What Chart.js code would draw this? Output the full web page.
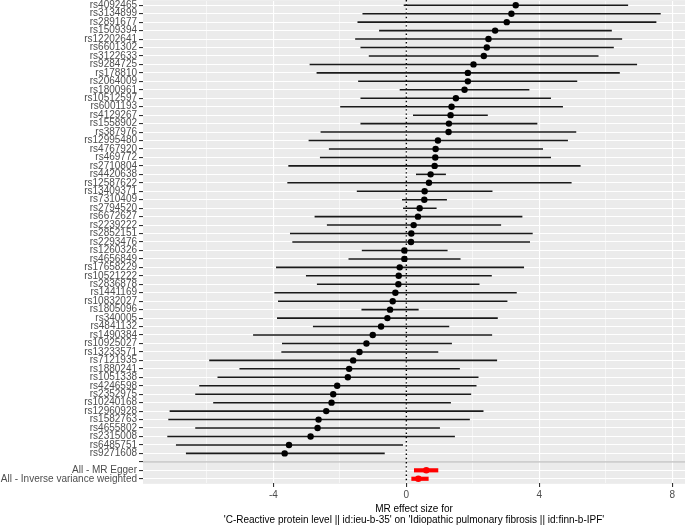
<!DOCTYPE html>
<html>
<head>
<meta charset="utf-8">
<script src="https://cdn.jsdelivr.net/npm/chart.js@4"></script>
<style>
  html, body { margin: 0; padding: 0; background: #fff; }
  #wrap { width: 685px; height: 526px; }
</style>
</head>
<body>
<div id="wrap"><canvas id="forestChart" width="685" height="526"></canvas></div>
<script>
// SNP rows, top to bottom
const snps = [
  "rs4092465", "rs3134899", "rs2891677", "rs1509394", "rs12202641", "rs6601302",
  "rs3122633", "rs9284725", "rs178810", "rs2064009", "rs1800961", "rs10512597",
  "rs6001193", "rs4129267", "rs1558902", "rs387976", "rs12995480", "rs4767920",
  "rs469772", "rs2710804", "rs4420638", "rs12587622", "rs13409371", "rs7310409",
  "rs2794520", "rs6672627", "rs2239222", "rs2852151", "rs2293476", "rs1260326",
  "rs4656849", "rs17658229", "rs10521222", "rs2836878", "rs1441169", "rs10832027",
  "rs1805096", "rs340005", "rs4841132", "rs1490384", "rs10925027", "rs13233571",
  "rs7121935", "rs1880241", "rs1051338", "rs4246598", "rs2352975", "rs10240168",
  "rs12960928", "rs1582763", "rs4655802", "rs2315008", "rs6485751", "rs9271608"
];
const estimates = [
  3.29, 3.16, 3.02, 2.67, 2.47, 2.42, 2.33, 2.02, 1.85, 1.85, 1.75, 1.49,
  1.36, 1.33, 1.28, 1.27, 0.95, 0.88, 0.87, 0.85, 0.73, 0.68, 0.55, 0.54,
  0.40, 0.35, 0.22, 0.15, 0.14, -0.06, -0.06, -0.20, -0.23, -0.24, -0.33, -0.41,
  -0.49, -0.57, -0.76, -1.01, -1.20, -1.41, -1.60, -1.72, -1.76, -2.08, -2.20, -2.25,
  -2.41, -2.64, -2.67, -2.88, -3.53, -3.66
];
const lowerCI = [
  -0.07, -1.31, -1.46, -0.81, -1.53, -1.37, -1.12, -2.90, -2.69, -1.44, -0.19, -1.37,
  -1.98, 0.21, -1.37, -2.57, -2.93, -2.32, -2.59, -3.54, 0.30, -3.57, -1.48, -0.12,
  -0.09, -2.75, -2.38, -3.49, -3.42, -1.33, -1.73, -3.91, -3.01, -2.68, -3.96, -3.85,
  -1.34, -3.88, -2.80, -4.60, -3.73, -3.75, -5.92, -5.01, -5.67, -6.22, -6.34, -5.80,
  -7.11, -7.15, -6.34, -7.18, -6.92, -6.62
];
const upperCI = [
  6.66, 7.64, 7.51, 6.17, 6.48, 6.23, 5.77, 6.93, 6.41, 5.13, 3.69, 4.34,
  4.70, 2.44, 3.93, 5.10, 4.85, 4.10, 4.34, 5.23, 1.18, 4.96, 2.58, 1.21,
  0.90, 3.48, 2.84, 3.79, 3.71, 1.23, 1.62, 3.53, 2.56, 2.19, 3.31, 3.03,
  0.36, 2.74, 1.28, 2.57, 1.36, 0.95, 2.72, 1.60, 2.16, 2.10, 1.94, 1.33,
  2.31, 1.90, 1.00, 1.45, -0.11, -0.66
];

// summary rows
const methods = ["All - MR Egger", "All - Inverse variance weighted"];
const methodEstimates = [0.60, 0.36];
const methodLower = [0.24, 0.16];
const methodUpper = [0.95, 0.66];

const majorTicks = [-4, 0, 4, 8];
const minorTicks = [-6, -2, 2, 6];
const xTitle = [
  "MR effect size for",
  "'C-Reactive protein level || id:ieu-b-35' on 'Idiopathic pulmonary fibrosis || id:finn-b-IPF'"
];

const rows = [...snps, "", ...methods];
const blankRow = snps.length;

const allLow = Math.min(...lowerCI, ...methodLower);
const allHigh = Math.max(...upperCI, ...methodUpper);
const pad = (allHigh - allLow) * 0.05;

const fontFamily = "'Liberation Sans', Arial, Helvetica, sans-serif";

const panelPlugin = {
  id: "panel",
  beforeDraw(chart) {
    const { ctx, chartArea: a, scales } = chart;
    // ggplot pads the discrete axis by 0.6 of a row
    const top = Math.max(0, scales.y.getPixelForValue(-0.6));
    const bottom = scales.y.getPixelForValue(rows.length - 0.4);
    ctx.save();
    ctx.fillStyle = "#EBEBEB";
    ctx.fillRect(a.left, top, a.right - a.left, bottom - top);
    ctx.restore();
  },
  beforeDatasetsDraw(chart) {
    const { ctx, chartArea: a, scales } = chart;
    ctx.save();
    // separator between SNPs and summary estimates
    const ySep = scales.y.getPixelForValue(blankRow);
    ctx.strokeStyle = "#BEBEBE";
    ctx.lineWidth = 1.1;
    ctx.beginPath();
    ctx.moveTo(a.left, ySep);
    ctx.lineTo(a.right, ySep);
    ctx.stroke();
    // dotted null line
    const x0 = scales.x.getPixelForValue(0);
    ctx.strokeStyle = "#000";
    ctx.lineWidth = 1.4;
    ctx.setLineDash([1.4, 2.8]);
    ctx.beginPath();
    ctx.moveTo(x0, 0);
    ctx.lineTo(x0, a.bottom);
    ctx.stroke();
    ctx.restore();
  }
};

new Chart(document.getElementById("forestChart"), {
  type: "bar",
  data: {
    labels: rows,
    datasets: [
      {
        type: "scatter",
        data: snps.map((s, i) => ({ x: estimates[i], y: s })),
        backgroundColor: "#000",
        borderWidth: 0,
        pointRadius: 3.2,
        order: 0
      },
      {
        type: "scatter",
        data: methods.map((m, i) => ({ x: methodEstimates[i], y: m })),
        backgroundColor: "#FF0000",
        borderWidth: 0,
        pointRadius: 3.3,
        order: 0
      },
      {
        data: rows.map((r, i) => i < snps.length ? [lowerCI[i], upperCI[i]] : null),
        backgroundColor: "#1a1a1a",
        barThickness: 0.9,
        grouped: false,
        order: 1
      },
      {
        data: rows.map(r => {
          const k = methods.indexOf(r);
          return k >= 0 ? [methodLower[k], methodUpper[k]] : null;
        }),
        backgroundColor: "#FF0000",
        barThickness: 3.5,
        grouped: false,
        order: 1
      }
    ]
  },
  options: {
    indexAxis: "y",
    responsive: false,
    animation: false,
    devicePixelRatio: 1,
    layout: { padding: { top: 1, left: 0, right: 0, bottom: 0 }, autoPadding: false },
    plugins: {
      legend: { display: false },
      tooltip: { enabled: false }
    },
    scales: {
      x: {
        type: "linear",
        min: allLow - pad,
        max: allHigh + pad,
        afterBuildTicks: scale => {
          scale.ticks = [...minorTicks, ...majorTicks].sort((a, b) => a - b).map(v => ({ value: v }));
        },
        afterFit: scale => {
          scale.height = 43;
          scale.paddingLeft = 0;
          scale.paddingRight = 0;
        },
        border: { display: false },
        grid: {
          color: "#FFFFFF",
          lineWidth: ctx => majorTicks.includes(ctx.tick.value) ? 1.1 : 0.55,
          tickColor: ctx => majorTicks.includes(ctx.tick.value) ? "#333333" : "rgba(0,0,0,0)",
          tickLength: 4,
          drawTicks: true
        },
        ticks: {
          autoSkip: false,
          maxRotation: 0,
          padding: 2,
          color: "#4D4D4D",
          font: { family: fontFamily, size: 10 },
          callback: v => majorTicks.includes(v) ? String(v) : ""
        },
        title: {
          display: true,
          text: xTitle,
          color: "#000",
          font: { family: fontFamily, size: 10, lineHeight: 1.05 },
          padding: { top: 4, bottom: 1 }
        }
      },
      y: {
        type: "category",
        offset: true,
        afterFit: scale => {
          scale.width = 143;
          scale.paddingTop = 0;
          scale.paddingBottom = 0;
        },
        border: { display: false },
        grid: {
          offset: false,
          color: "#FFFFFF",
          lineWidth: 1.1,
          tickColor: "#333333",
          tickLength: 4
        },
        ticks: {
          autoSkip: false,
          padding: 2,
          color: "#4D4D4D",
          font: { family: fontFamily, size: 10 }
        }
      }
    }
  },
  plugins: [panelPlugin]
});
</script>
</body>
</html>
